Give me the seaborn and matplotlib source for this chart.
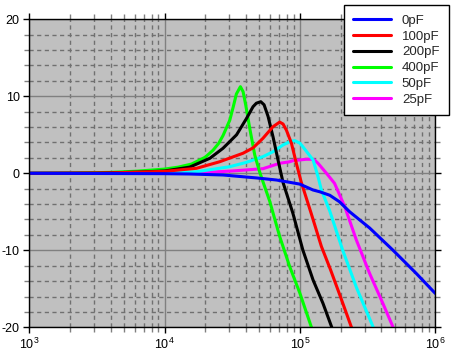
import matplotlib
matplotlib.use("Agg")
import matplotlib.pyplot as plt
import numpy as np
import pandas as pd
import seaborn as sns
from matplotlib.ticker import FixedLocator, NullFormatter, FixedFormatter

# ---------------- data ----------------
series_names = ["0pF", "100pF", "200pF", "400pF", "50pF", "25pF"]
series_colors = ["#0000ff", "#ff0000", "#000000", "#00ff00", "#00ffff", "#ff00ff"]

freq_0pf_khz = [1, 10, 15.3, 27, 47.6, 67, 99.5, 125, 140, 166, 196, 233, 327, 485, 723, 1000]
gain_0pf_db = [0, -0.05, -0.09, -0.22, -0.6, -0.87, -1.4, -2.17, -2.4, -2.85, -3.7, -5.0, -7.1, -9.96, -13.0, -15.6]

freq_100pf_khz = [1, 4, 10, 17.2, 25.5, 37.9, 45, 53.3, 63.2, 70.8, 75, 79.4, 86.5, 94, 102, 121, 144, 168, 196, 239, 251]
gain_100pf_db = [0, 0.05, 0.25, 0.65, 1.5, 2.6, 3.3, 4.55, 6.05, 6.65, 6.4, 5.6, 3.9, 1.3, -1.1, -5.2, -9.5, -12.5, -15.7, -19.9, -20.8]

freq_200pf_khz = [1, 3.16, 6.3, 10, 15.3, 21.6, 27, 34, 40.2, 45, 47.6, 51.3, 54.3, 58.1, 63.2, 68.9, 75, 88.7, 105, 125, 148, 171, 178]
gain_200pf_db = [0, 0.02, 0.15, 0.3, 0.8, 1.95, 3.25, 5.0, 7.1, 8.65, 9.1, 9.3, 8.9, 7.4, 4.75, 1.7, -1.2, -5.2, -9.96, -13.86, -16.9, -19.9, -20.8]

freq_400pf_khz = [1, 2, 4, 6.3, 10, 12.6, 15.8, 20, 22.8, 25.1, 27, 30.3, 32.1, 33.9, 36.3, 38, 39.8, 42.6, 46.3, 50.1, 53.3, 59.7, 70.8, 83.9, 100, 121, 126]
gain_400pf_db = [0, 0.02, 0.12, 0.28, 0.55, 0.8, 1.2, 2.1, 3.0, 3.9, 4.9, 6.9, 8.6, 10.3, 11.25, 10.6, 8.8, 5.8, 2.4, 0.3, -1.1, -3.6, -8.2, -12.1, -15.6, -19.9, -20.7]

freq_50pf_khz = [1, 10, 17.2, 30.3, 39.8, 53.3, 63.2, 75, 83.9, 91.4, 100, 105, 125, 136, 144, 166, 207, 261, 346, 363]
gain_50pf_db = [0, 0.08, 0.2, 0.86, 1.4, 2.16, 2.8, 3.68, 4.1, 4.25, 3.9, 3.45, 1.73, -0.44, -2.17, -4.9, -10.0, -14.8, -19.9, -20.8]

freq_25pf_khz = [1, 15.8, 31.6, 53.3, 70.8, 83.9, 88.7, 111, 120, 128, 136, 157, 180, 214, 261, 327, 410, 485, 501]
gain_25pf_db = [0, 0.02, 0.3, 0.6, 1.3, 1.5, 1.64, 1.82, 1.82, 1.73, 1.3, 0.0, -1.3, -4.3, -8.66, -13.0, -16.9, -19.9, -20.6]

x_tick_values = [1e3, 1e4, 1e5, 1e6]
x_tick_labels = ["$10^{3}$", "$10^{4}$", "$10^{5}$", "$10^{6}$"]
y_tick_values = [-20, -10, 0, 10, 20]
y_tick_labels = ["-20", "-10", "0", "10", "20"]

freqs = [freq_0pf_khz, freq_100pf_khz, freq_200pf_khz, freq_400pf_khz, freq_50pf_khz, freq_25pf_khz]
gains = [gain_0pf_db, gain_100pf_db, gain_200pf_db, gain_400pf_db, gain_50pf_db, gain_25pf_db]

frames = []
for name, f, g in zip(series_names, freqs, gains):
    frames.append(pd.DataFrame({"freq": np.array(f) * 1000.0, "gain": g, "series": name}))
df = pd.concat(frames, ignore_index=True)

# ---------------- style ----------------
sns.set_style("ticks")
plt.rcParams["font.family"] = ["Liberation Sans", "DejaVu Sans"]
plt.rcParams["mathtext.default"] = "regular"
plt.rcParams["axes.unicode_minus"] = False

W, H = 454, 359
fig = plt.figure(figsize=(W / 100, H / 100), dpi=100)
fig.patch.set_facecolor("white")
left, right, top, bottom = 29.3, 435.3, 19.3, 327.3
ax = fig.add_axes([left / W, 1 - bottom / H, (right - left) / W, (bottom - top) / H])
ax.set_facecolor("#c0c0c0")
ax.set_axisbelow(True)

palette = dict(zip(series_names, series_colors))
draw_order = series_names[::-1]
sns.lineplot(data=df, x="freq", y="gain", hue="series", hue_order=draw_order,
             palette=palette, estimator=None, sort=False, linewidth=2.2, ax=ax)

ax.set_xscale("log")
ax.set_xlim(1e3, 1e6)
ax.set_ylim(-20, 20)
ax.set_xlabel("")
ax.set_ylabel("")

# ticks
ax.xaxis.set_major_locator(FixedLocator(x_tick_values))
ax.xaxis.set_major_formatter(FixedFormatter(x_tick_labels))
minor_x = [m * 10 ** e for e in (3, 4, 5) for m in range(2, 10)]
ax.xaxis.set_minor_locator(FixedLocator(minor_x))
ax.xaxis.set_minor_formatter(NullFormatter())
ax.yaxis.set_major_locator(FixedLocator(y_tick_values))
ax.yaxis.set_major_formatter(FixedFormatter(y_tick_labels))
ax.yaxis.set_minor_locator(FixedLocator([v for v in range(-18, 20, 2) if v % 10 != 0]))

ax.tick_params(which="both", direction="out", top=True, right=True, labelsize=9, colors="black")
ax.tick_params(which="major", length=4, width=1, color="black", pad=3)
ax.tick_params(which="minor", length=3.5, width=1, color="#808080")

# grid
ax.grid(which="major", color="#808080", linewidth=1, linestyle="-")
ax.grid(which="minor", color="#707070", linewidth=1, linestyle=(0, (3, 2.5)))

for s in ax.spines.values():
    s.set_visible(True)
    s.set_color("black")
    s.set_linewidth(1)

# legend in the original order
handles, labels = ax.get_legend_handles_labels()
ax.get_legend().remove()
hmap = dict(zip(labels, handles))
leg = fig.legend([hmap[n] for n in series_names], series_names,
                 loc="upper right", bbox_to_anchor=(449 / W, 1 - 5 / H),
                 frameon=True, fancybox=False, framealpha=1, edgecolor="black",
                 fontsize=9.5, handlelength=2.9, handletextpad=0.8,
                 borderpad=0.72, labelspacing=0.27, borderaxespad=0)
leg.get_frame().set_linewidth(1)
for line in leg.get_lines():
    line.set_linewidth(2.2)

fig.savefig("out.png", dpi=100, facecolor="white")
